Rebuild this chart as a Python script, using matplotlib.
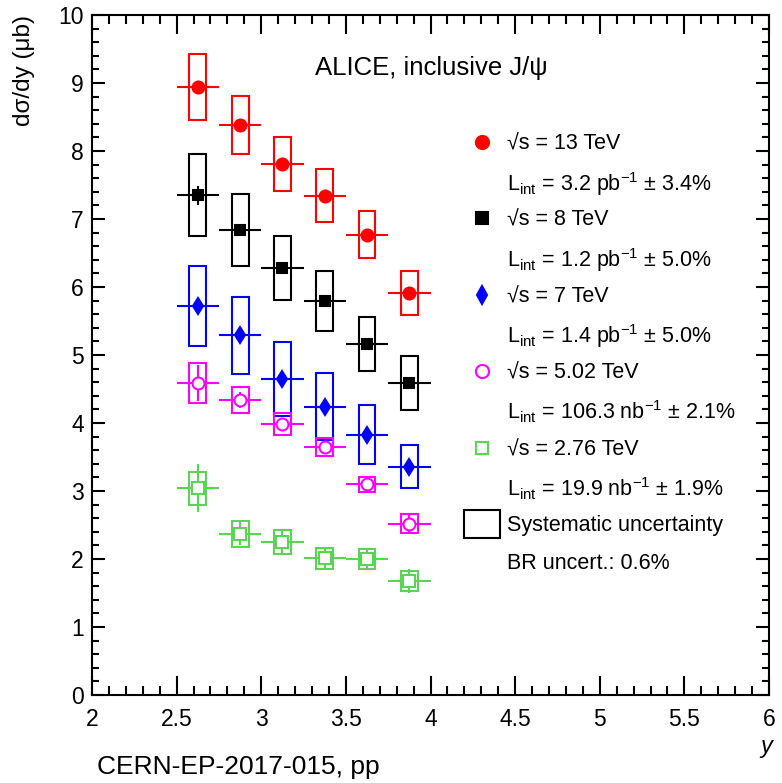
import numpy as np
import matplotlib
matplotlib.use('Agg')
import matplotlib.pyplot as plt
from matplotlib.patches import Rectangle
from matplotlib.lines import Line2D
from matplotlib.ticker import MultipleLocator, FuncFormatter

plt.rcParams['font.family'] = ['Liberation Sans', 'DejaVu Sans']
plt.rcParams['mathtext.fontset'] = 'custom'
plt.rcParams['mathtext.rm'] = 'Liberation Sans'
plt.rcParams['mathtext.it'] = 'Liberation Sans:italic'

# rapidity bins (2.5 < y < 4, 6 bins)
y_bins = np.array([2.625, 2.875, 3.125, 3.375, 3.625, 3.875])
y_halfwidth = 0.125

# d sigma / dy (mub), stat and syst uncertainties
xs_13 = [8.94, 8.38, 7.81, 7.34, 6.77, 5.91]
stat_13 = [0.07, 0.07, 0.07, 0.07, 0.07, 0.08]
sys_13 = [0.48, 0.43, 0.40, 0.39, 0.35, 0.32]

xs_8 = [7.35, 6.84, 6.28, 5.79, 5.16, 4.59]
stat_8 = [0.14, 0.06, 0.06, 0.06, 0.06, 0.06]
sys_8 = [0.60, 0.53, 0.47, 0.44, 0.40, 0.40]

xs_7 = [5.72, 5.29, 4.65, 4.24, 3.83, 3.36]
stat_7 = [0.08, 0.08, 0.08, 0.08, 0.08, 0.08]
sys_7 = [0.59, 0.57, 0.54, 0.49, 0.43, 0.32]

xs_5 = [4.59, 4.34, 3.99, 3.65, 3.10, 2.52]
stat_5 = [0.27, 0.12, 0.07, 0.07, 0.06, 0.15]
sys_5 = [0.29, 0.19, 0.16, 0.13, 0.11, 0.14]

xs_276 = [3.04, 2.37, 2.25, 2.01, 2.00, 1.68]
stat_276 = [0.35, 0.17, 0.17, 0.15, 0.15, 0.18]
sys_276 = [0.24, 0.19, 0.18, 0.15, 0.15, 0.15]

series = [
    # values, stat, syst, colour, marker, size, filled
    (xs_13, stat_13, sys_13, '#ff0000', 'o', 8.6, True),
    (xs_8, stat_8, sys_8, '#000000', 's', 7.6, True),
    (xs_7, stat_7, sys_7, '#0000ff', 'd', 8.2, True),
    (xs_5, stat_5, sys_5, '#ff00ff', 'o', 8.6, False),
    (xs_276, stat_276, sys_276, '#59d454', 's', 8.4, False),
]

legend_labels = [
    (r'√s = 13 TeV', r'L$_{\mathrm{int}}$ = 3.2 pb$^{-1}$ ± 3.4%'),
    (r'√s = 8 TeV', r'L$_{\mathrm{int}}$ = 1.2 pb$^{-1}$ ± 5.0%'),
    (r'√s = 7 TeV', r'L$_{\mathrm{int}}$ = 1.4 pb$^{-1}$ ± 5.0%'),
    (r'√s = 5.02 TeV', r'L$_{\mathrm{int}}$ = 106.3 nb$^{-1}$ ± 2.1%'),
    (r'√s = 2.76 TeV', r'L$_{\mathrm{int}}$ = 19.9 nb$^{-1}$ ± 1.9%'),
]

W, H = 782, 783
fig = plt.figure(figsize=(W / 100, H / 100), dpi=100)
ax = fig.add_axes([92 / W, 1 - 695 / H, 677 / W, 680 / H])

box_hw = 0.05
for vals, stat, sys, col, mk, ms, filled in series:
    vals = np.array(vals)
    sys = np.array(sys)
    for xc, yc, s in zip(y_bins, vals, sys):
        ax.add_patch(Rectangle((xc - box_hw, yc - s), 2 * box_hw, 2 * s,
                               fill=False, edgecolor=col, lw=1.5, zorder=2))
    ax.errorbar(y_bins, vals, xerr=y_halfwidth, yerr=stat, fmt='none',
                ecolor=col, elinewidth=1.5, capsize=0, zorder=3)
    ax.plot(y_bins, vals, linestyle='none', marker=mk, markersize=ms,
            markerfacecolor=col if filled else 'white', markeredgecolor=col,
            markeredgewidth=1.5, zorder=4)

ax.set_xlim(2, 6)
ax.set_ylim(0, 10)
ax.xaxis.set_major_locator(MultipleLocator(0.5))
ax.xaxis.set_minor_locator(MultipleLocator(0.1))
ax.yaxis.set_major_locator(MultipleLocator(1))
ax.yaxis.set_minor_locator(MultipleLocator(0.2))
ax.xaxis.set_major_formatter(FuncFormatter(lambda v, p: '%g' % v))
ax.tick_params(which='both', direction='in', top=True, right=True, width=1.5,
               labelsize=16.5)
ax.tick_params(axis='x', which='major', length=13.7, pad=9)
ax.tick_params(axis='x', which='minor', length=6.8)
ax.tick_params(axis='y', which='major', length=9.4, pad=6)
ax.tick_params(axis='y', which='minor', length=5)
for sp in ax.spines.values():
    sp.set_linewidth(1.5)

fig.text(24 / W, 1 - 15 / H, 'dσ/dy (μb)', rotation=90, ha='center', va='top',
         fontsize=17.5)
fig.text(766 / W, 1 - 747 / H, 'y', style='italic', ha='center', va='center',
         fontsize=17)
fig.text(97 / W, 1 - 767 / H, 'CERN-EP-2017-015, pp', ha='left', va='center',
         fontsize=19)
fig.text(431 / W, 1 - 68 / H, 'ALICE, inclusive J/ψ', ha='center', va='center',
         fontsize=18.5)

# legend, drawn by hand in ROOT style
row0, drow = 142, 38.2
mk_x, txt_x = 482, 507
for i, ((vals, stat, sys, col, mk, ms, filled), (lab1, lab2)) in enumerate(zip(series, legend_labels)):
    yy = row0 + 2 * i * drow
    fig.add_artist(Line2D([mk_x / W], [1 - yy / H], linestyle='none', marker=mk,
                          markersize=ms * 1.1, markerfacecolor=col if filled else 'none',
                          markeredgecolor=col, markeredgewidth=1.5))
    fig.text(txt_x / W, 1 - (yy + 2) / H, lab1, ha='left', va='center', fontsize=15.5)
    fig.text(txt_x / W, 1 - (yy + drow) / H, lab2, ha='left', va='center_baseline',
             fontsize=15.5)
yy = row0 + 10 * drow
fig.add_artist(Rectangle((464 / W, 1 - (yy + 14) / H), 36 / W, 28 / H,
                         transform=fig.transFigure, fill=False, edgecolor='black',
                         lw=1.5))
fig.text(txt_x / W, 1 - (yy + 1) / H, 'Systematic uncertainty', ha='left', va='center',
         fontsize=15.5)
fig.text(txt_x / W, 1 - (yy + drow + 1) / H, 'BR uncert.: 0.6%', ha='left',
         va='center', fontsize=15.5)

fig.savefig('out.png', dpi=100)
